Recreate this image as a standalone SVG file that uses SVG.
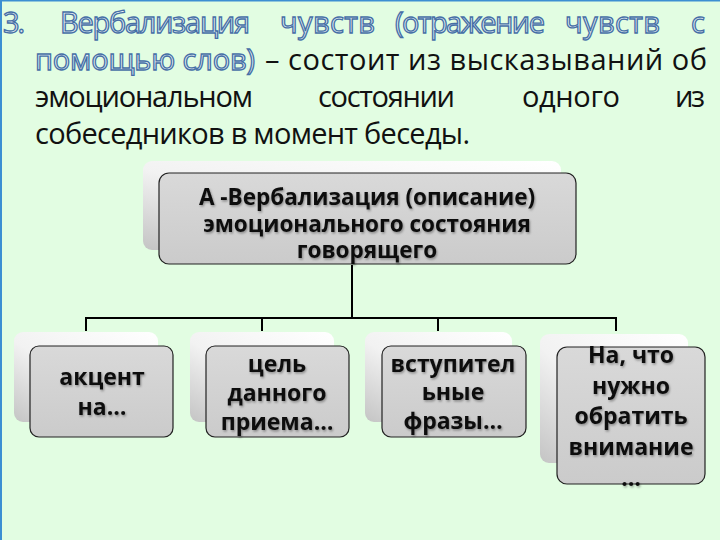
<svg xmlns="http://www.w3.org/2000/svg" width="720" height="540" viewBox="0 0 720 540">
<defs>
<linearGradient id="back" x1="1" y1="0" x2="0" y2="1">
<stop offset="0" stop-color="#ffffff"/>
<stop offset="0.55" stop-color="#f2f2f2"/>
<stop offset="1" stop-color="#c4c4c4"/>
</linearGradient>
<linearGradient id="front" x1="0" y1="0" x2="0" y2="1">
<stop offset="0" stop-color="#d9d9d9"/>
<stop offset="1" stop-color="#cbcbcb"/>
</linearGradient>
<linearGradient id="ttl" x1="0" y1="0" x2="0" y2="1">
<stop offset="0" stop-color="#f4fbfb"/>
<stop offset="1" stop-color="#d6e6ee"/>
</linearGradient>
<filter id="sh" x="-10%" y="-20%" width="120%" height="150%">
<feDropShadow dx="1" dy="1.5" stdDeviation="1" flood-color="#000" flood-opacity="0.35"/>
</filter>
</defs>
<style>
.body{font-family:"Open Sans","Liberation Sans",sans-serif;font-size:29px;fill:#111}
.out{font-family:"Open Sans","Liberation Sans",sans-serif;font-size:29px;fill:url(#ttl);stroke:#466fa6;stroke-width:1.3}
.bx{font-family:"Open Sans","Liberation Sans",sans-serif;font-weight:bold;fill:#111;text-anchor:middle}
.back{fill:url(#back)}
.front{fill:url(#front);stroke:#222;stroke-width:1.2}
.conn{stroke:#000;stroke-width:2;fill:none}
</style>
<rect width="720" height="540" fill="#e2fde2"/>
<rect x="0" y="0" width="2" height="540" fill="#3c8fd2"/>
<rect x="0" y="0" width="720" height="1.5" fill="#3c8fd2"/>

<g id="title">
<text class="out" y="33"><tspan x="3" textLength="22">3.</tspan><tspan x="60" textLength="190">Вербализация</tspan><tspan x="280" textLength="95">чувств</tspan><tspan x="395" textLength="150">(отражение</tspan><tspan x="565" textLength="95">чувств</tspan><tspan x="691" textLength="16">с</tspan></text>
<text class="out" x="35" y="70" textLength="220">помощью слов)</text>
<text class="body" x="265" y="70" textLength="442">– состоит из высказываний об</text>
<text class="body" y="107"><tspan x="35" textLength="218">эмоциональном</tspan><tspan x="318" textLength="137">состоянии</tspan><tspan x="522" textLength="98">одного</tspan><tspan x="675" textLength="30">из</tspan></text>
<text class="body" x="35" y="144" textLength="435">собеседников в момент беседы.</text>
</g>

<g id="connectors">
<path class="conn" d="M352 265 V318 M86 318 H616 M86 317 V331 M262 317 V331 M438 317 V331 M616 317 V331"/>
</g>

<g id="root">
<rect class="back" x="143" y="161" width="418" height="89" rx="9"/>
<rect class="front" x="159" y="173" width="417" height="91" rx="10"/>
<text class="bx" font-size="22.5" x="367" filter="url(#sh)"><tspan x="367" y="205">А -Вербализация (описание)</tspan><tspan x="367" y="232">эмоционального состояния</tspan><tspan x="367" y="258">говорящего</tspan></text>
</g>

<g id="n1">
<rect class="back" x="14" y="332" width="144" height="90" rx="9"/>
<rect class="front" x="30" y="346" width="143" height="91" rx="9"/>
<text class="bx" font-size="23" filter="url(#sh)"><tspan x="102" y="385">акцент</tspan><tspan x="102" y="415">на…</tspan></text>
</g>

<g id="n2">
<rect class="back" x="190" y="332" width="144" height="90" rx="9"/>
<rect class="front" x="206" y="346" width="143" height="91" rx="9"/>
<text class="bx" font-size="23" filter="url(#sh)"><tspan x="277" y="372">цель</tspan><tspan x="277" y="401">данного</tspan><tspan x="277" y="430">приема…</tspan></text>
</g>

<g id="n3">
<rect class="back" x="365" y="332" width="147" height="90" rx="9"/>
<rect class="front" x="382" y="346" width="144" height="91" rx="9"/>
<text class="bx" font-size="23" filter="url(#sh)"><tspan x="453" y="372">вступител</tspan><tspan x="453" y="400">ьные</tspan><tspan x="453" y="429">фразы…</tspan></text>
</g>

<g id="n4">
<rect class="back" x="540" y="334" width="148" height="129" rx="9"/>
<rect class="front" x="557" y="347" width="148" height="137" rx="10"/>
<text class="bx" font-size="23" filter="url(#sh)"><tspan x="631" y="363">На, что</tspan><tspan x="631" y="394">нужно</tspan><tspan x="631" y="424">обратить</tspan><tspan x="631" y="455">внимание</tspan><tspan x="631" y="486">…</tspan></text>
</g>
</svg>
